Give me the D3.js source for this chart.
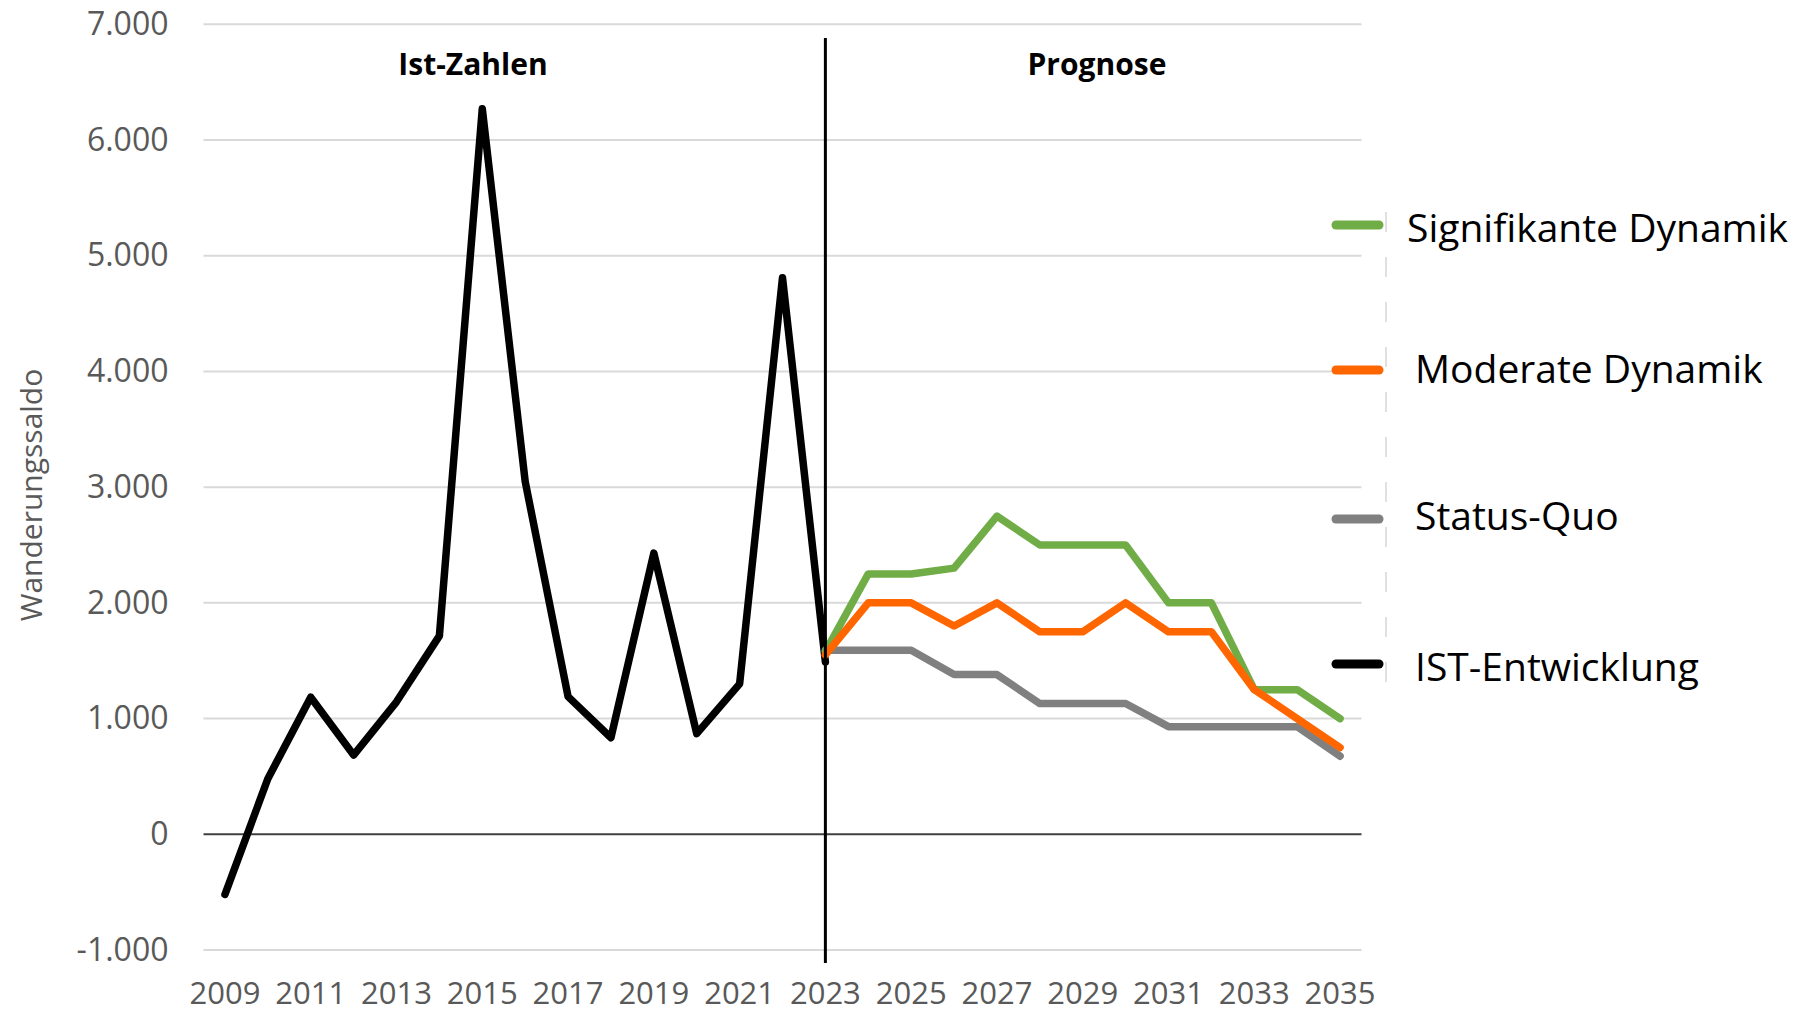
<!DOCTYPE html>
<html>
<head>
<meta charset="utf-8">
<script src="https://cdn.jsdelivr.net/npm/d3@7"></script>
<style>
  body { margin: 0; background: #fff; }
  svg { display: block; font-family: "Open Sans", sans-serif; }
</style>
</head>
<body>
<script>
// Jahre (Kategorien)
const years = [2009, 2010, 2011, 2012, 2013, 2014, 2015, 2016, 2017, 2018, 2019, 2020, 2021, 2022,
  2023, 2024, 2025, 2026, 2027, 2028, 2029, 2030, 2031, 2032, 2033, 2034, 2035];
const xTickYears = [2009, 2011, 2013, 2015, 2017, 2019, 2021, 2023, 2025, 2027, 2029, 2031, 2033, 2035];
const yTicks = [-1000, 0, 1000, 2000, 3000, 4000, 5000, 6000, 7000];

// Werte (null = kein Wert)
const istEntwicklung = [-520, 480, 1185, 685, 1145, 1715, 6270, 3050, 1190, 835, 2430, 870, 1300, 4810,
  1490, null, null, null, null, null, null, null, null, null, null, null, null];
const statusQuo = [null, null, null, null, null, null, null, null, null, null, null, null, null, null,
  1590, 1590, 1590, 1380, 1380, 1130, 1130, 1130, 930, 930, 930, 930, 675];
const signifikant = [null, null, null, null, null, null, null, null, null, null, null, null, null, null,
  1580, 2250, 2250, 2300, 2750, 2500, 2500, 2500, 2000, 2000, 1250, 1250, 1000];
const moderat = [null, null, null, null, null, null, null, null, null, null, null, null, null, null,
  1550, 2000, 2000, 1800, 2000, 1750, 1750, 2000, 1750, 1750, 1250, 1000, 750];

const series = [
  { name: "IST-Entwicklung", values: istEntwicklung, color: "#000000" },
  { name: "Status-Quo", values: statusQuo, color: "#808080" },
  { name: "Signifikante Dynamik", values: signifikant, color: "#70AD47" },
  { name: "Moderate Dynamik", values: moderat, color: "#FF6600" }
];
const legendOrder = ["Signifikante Dynamik", "Moderate Dynamik", "Status-Quo", "IST-Entwicklung"];

const width = 1808, height = 1014;

const svg = d3.select("body").append("svg")
  .attr("width", width)
  .attr("height", height);

const x = d3.scaleBand().domain(years).range([203.5, 1361.5]);
const xc = d => x(d) + x.bandwidth() / 2;
const y = d3.scaleLinear().domain([-1000, 7000]).range([950, 24.3]);

const de = d3.formatLocale({ decimal: ",", thousands: ".", grouping: [3], currency: ["", " €"], minus: "-" });
const fmt = de.format(",");

// Gitternetzlinien
svg.append("g")
  .selectAll("line")
  .data(yTicks.filter(d => d !== 0))
  .join("line")
  .attr("x1", 203.5).attr("x2", 1361.5)
  .attr("y1", d => y(d)).attr("y2", d => y(d))
  .attr("stroke", "#d9d9d9")
  .attr("stroke-width", 2);

// Nulllinie
svg.append("line")
  .attr("x1", 203.5).attr("x2", 1361.5)
  .attr("y1", y(0)).attr("y2", y(0))
  .attr("stroke", "#404040")
  .attr("stroke-width", 2);

// Y-Achse
const yAxis = svg.append("g")
  .attr("transform", "translate(203.5,0)")
  .call(d3.axisLeft(y).tickValues(yTicks).tickFormat(fmt).tickSize(0).tickPadding(35));
yAxis.select(".domain").remove();
yAxis.selectAll("text")
  .attr("fill", "#595959")
  .style("font-size", "32px")
  .style("font-family", "Open Sans");

// X-Achse
const xAxis = svg.append("g")
  .attr("transform", "translate(0,950)")
  .call(d3.axisBottom(x).tickValues(xTickYears).tickSize(0).tickPadding(32));
xAxis.select(".domain").remove();
xAxis.selectAll("text")
  .attr("fill", "#595959")
  .style("font-size", "31px")
  .style("font-family", "Open Sans");

// Achsentitel
svg.append("text")
  .attr("transform", "translate(42,495) rotate(-90)")
  .attr("text-anchor", "middle")
  .attr("fill", "#595959")
  .style("font-size", "30px")
  .text("Wanderungssaldo");

// Linien
const line = d3.line()
  .defined(d => d.v !== null)
  .x(d => xc(d.year))
  .y(d => y(d.v));

svg.append("g")
  .selectAll("path")
  .data(series)
  .join("path")
  .attr("d", s => line(years.map((yr, i) => ({ year: yr, v: s.values[i] }))))
  .attr("fill", "none")
  .attr("stroke", s => s.color)
  .attr("stroke-width", 7.5)
  .attr("stroke-linejoin", "round")
  .attr("stroke-linecap", "round");

// Trennlinie Ist / Prognose
svg.append("line")
  .attr("x1", xc(2023)).attr("x2", xc(2023))
  .attr("y1", 38).attr("y2", 963)
  .attr("stroke", "#000")
  .attr("stroke-width", 3);

// Bereichsbeschriftungen
svg.append("text")
  .attr("x", 473).attr("y", 75)
  .attr("text-anchor", "middle")
  .style("font-size", "30px")
  .style("font-weight", "bold")
  .text("Ist-Zahlen");

svg.append("text")
  .attr("x", 1097).attr("y", 75)
  .attr("text-anchor", "middle")
  .style("font-size", "30px")
  .style("font-weight", "bold")
  .text("Prognose");

// Legende
const legendY = [225, 370, 519, 664];
const legendTextY = [241.5, 383, 530, 681];
const legendTextX = [1407, 1415, 1415, 1415];

svg.append("line")
  .attr("x1", 1386).attr("x2", 1386)
  .attr("y1", 212).attr("y2", 705)
  .attr("stroke", "#d6d6d6")
  .attr("stroke-width", 1.5)
  .attr("stroke-dasharray", "20 25");

const legend = svg.append("g")
  .selectAll("g")
  .data(legendOrder.map(n => series.find(s => s.name === n)))
  .join("g");

legend.append("line")
  .attr("x1", 1336).attr("x2", 1379)
  .attr("y1", (d, i) => legendY[i]).attr("y2", (d, i) => legendY[i])
  .attr("stroke", d => d.color)
  .attr("stroke-width", 9)
  .attr("stroke-linecap", "round");

legend.append("text")
  .attr("x", (d, i) => legendTextX[i])
  .attr("y", (d, i) => legendTextY[i])
  .attr("fill", "#000")
  .style("font-size", "39px")
  .text(d => d.name);
</script>
</body>
</html>
